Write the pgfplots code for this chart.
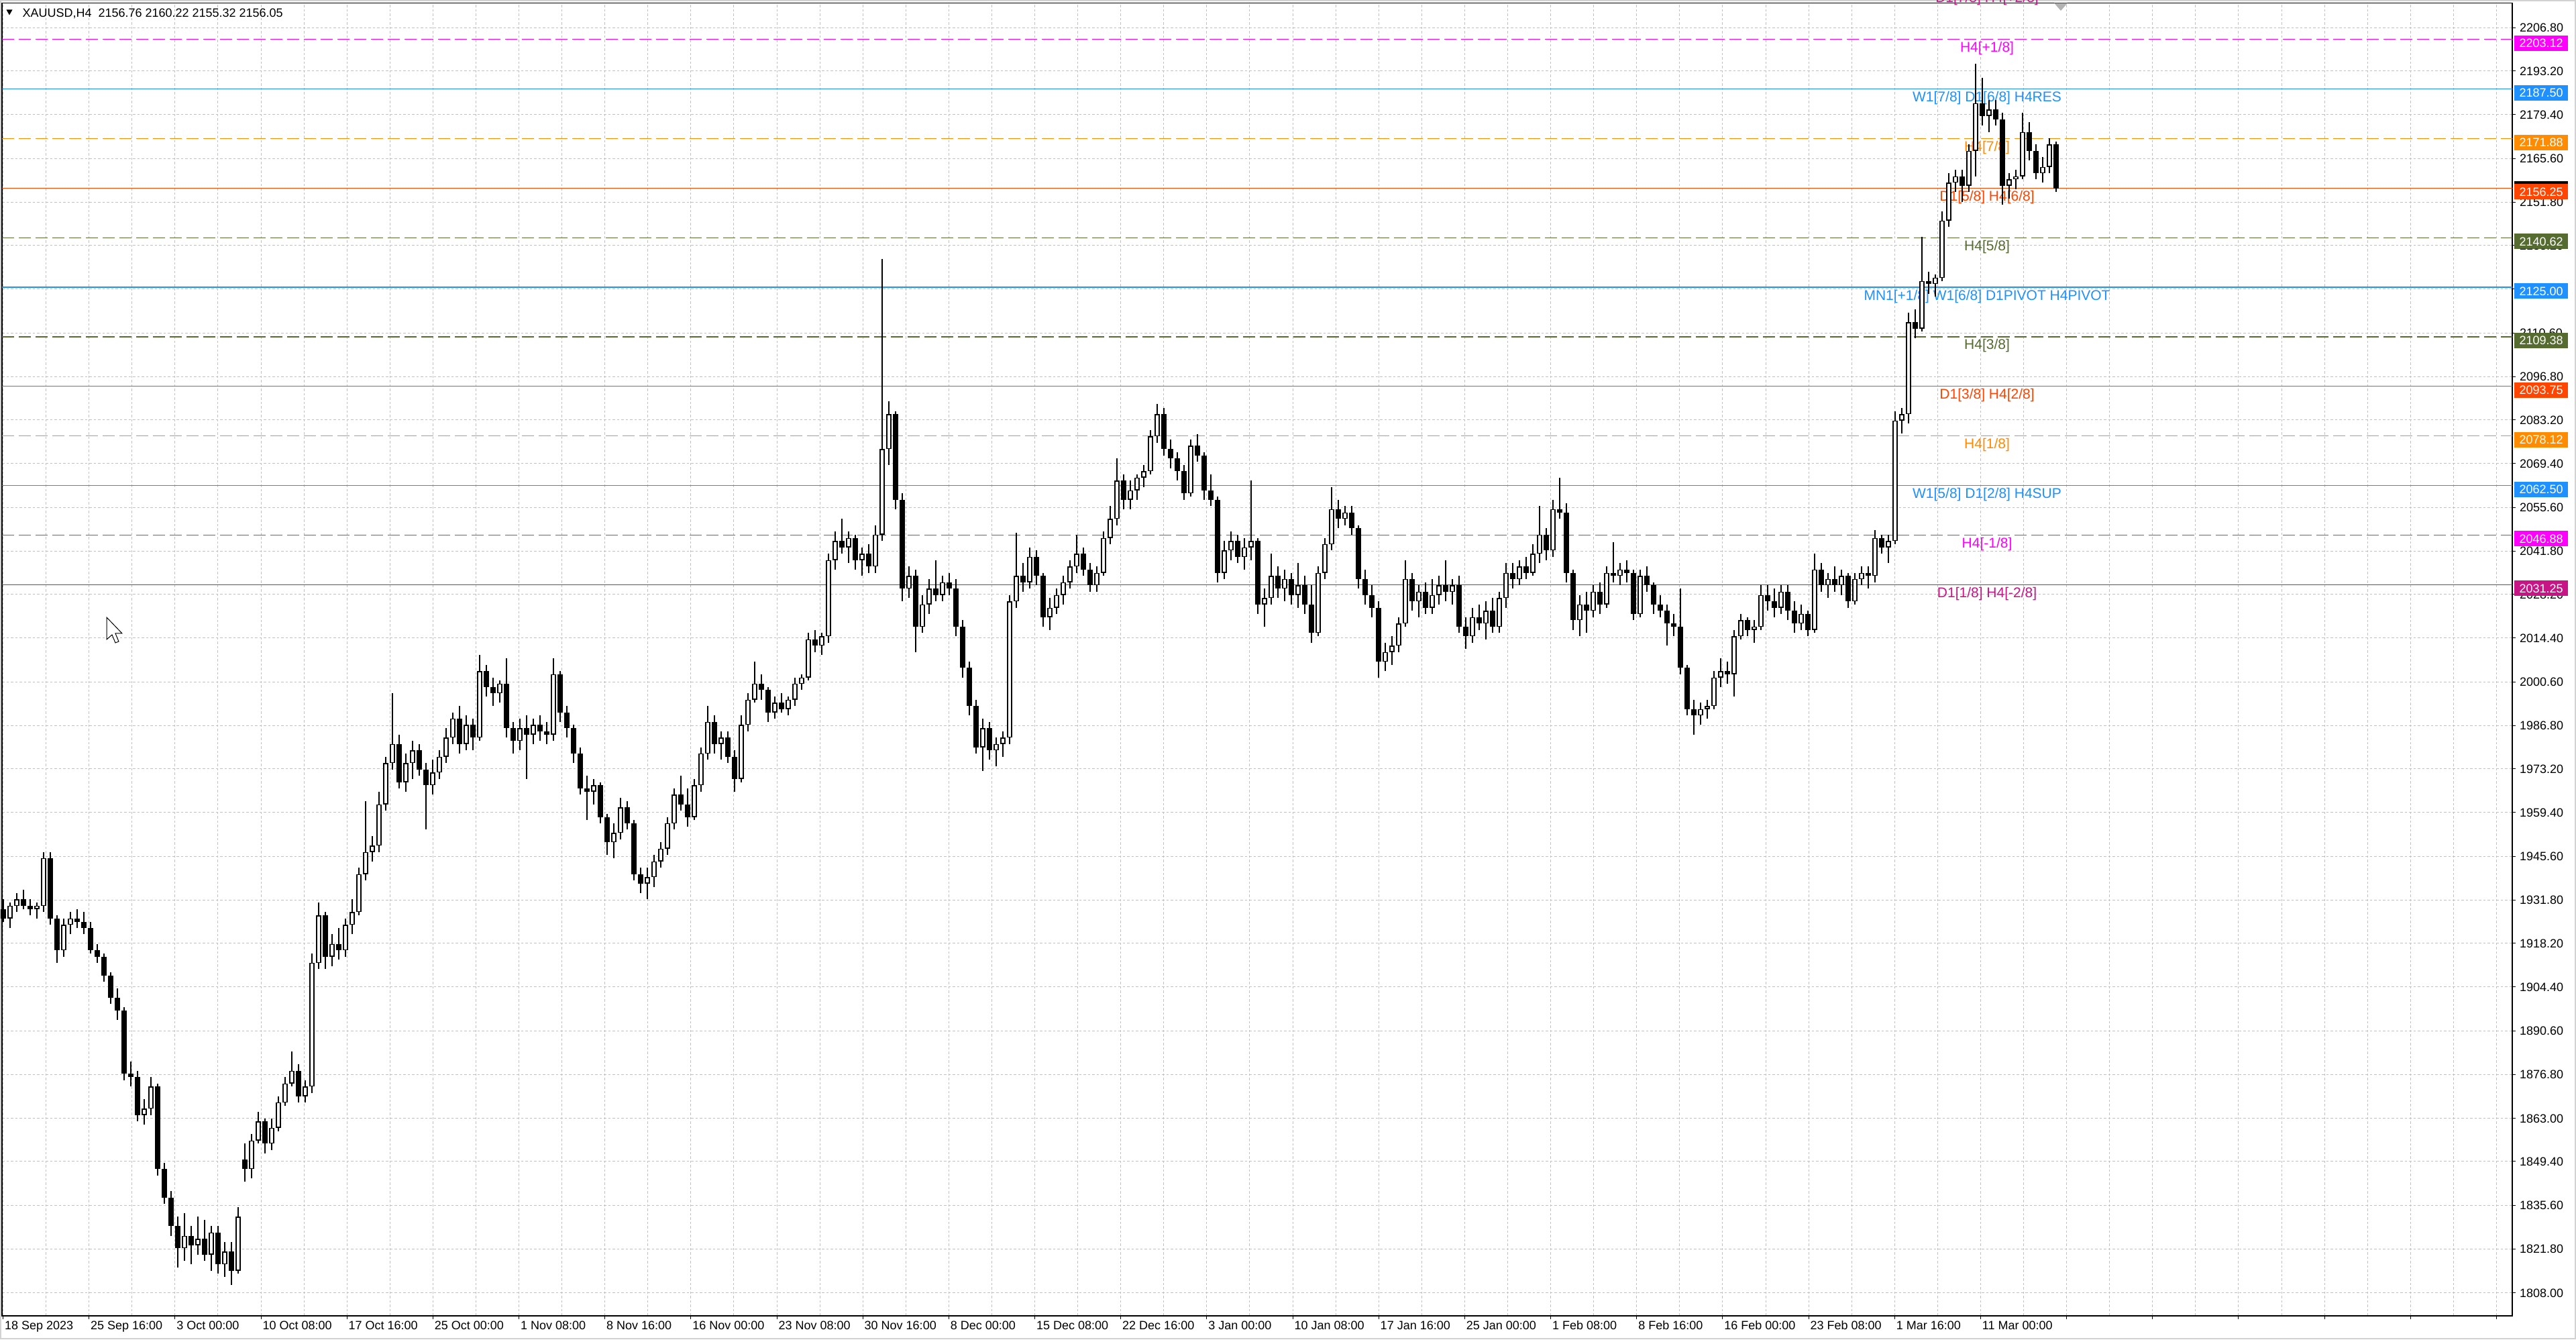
\documentclass[border=0pt]{standalone}
\usepackage{fontspec}
\setmainfont{Liberation Sans}
\usepackage{pgfplots}
\usepackage{pgfplotstable}
\pgfplotsset{compat=1.18}
\definecolor{cMag}{HTML}{FF00FF}
\definecolor{cBlue}{HTML}{1E90FF}
\definecolor{cOrange}{HTML}{FF8C00}
\definecolor{cRed}{HTML}{FF4500}
\definecolor{cOlive}{HTML}{556B2F}
\definecolor{cViolet}{HTML}{C71585}
\definecolor{gridgray}{HTML}{C0C0C0}
\newcommand\axfont{\fontsize{3.6pt}{4pt}\selectfont}
\newcommand\lvlfont{\fontsize{4.2pt}{5pt}\selectfont}
\newcommand\ytl[2]{\node[anchor=base west,inner sep=0pt,font=\axfont] at ([xshift=2pt,yshift=-1.29pt]axis cs:3745,#1) {#2};}
\newcommand\xl[2]{\node[anchor=base west,inner sep=0pt,font=\axfont] at ([xshift=0.3pt,yshift=-4.14pt]axis cs:#1,1800.77) {#2};}
\newcommand\pbox[2]{\node[fill=#2,text=white,inner sep=0pt,minimum width=16pt,minimum height=4.6pt,text height=2.58pt,text depth=0pt,font=\axfont] at ([xshift=8.6pt,yshift=-1.1pt]axis cs:3745,#1) {#1};}
\newcommand\lvltext[3]{\node[anchor=base,inner sep=0pt,font=\lvlfont,text=#2] at ([yshift=-3.8pt]axis cs:2962,#1) {#3};}
\pgfplotstableread{
o h l c
1929 1932 1925 1926
1926 1931 1923 1930
1930 1934 1928 1932
1932 1935 1929 1930
1930 1932 1927 1929
1929 1931 1926 1930
1930 1947 1928 1945
1945 1947 1924 1926
1926 1927 1912 1916
1916 1926 1914 1924
1924 1928 1921 1926
1926 1929 1923 1925
1925 1928 1921 1923
1923 1925 1915 1916
1916 1918 1912 1914
1914 1915 1906 1908
1908 1909 1899 1901
1901 1904 1894 1897
1897 1898 1875 1877
1877 1881 1873 1876
1876 1878 1862 1864
1864 1869 1861 1866
1866 1876 1864 1873
1873 1874 1845 1847
1847 1849 1836 1838
1838 1840 1826 1829
1829 1832 1816 1822
1822 1833 1818 1826
1826 1829 1817 1823
1823 1832 1820 1825
1825 1831 1818 1820
1820 1829 1815 1827
1827 1829 1814 1817
1817 1824 1813 1821
1821 1824 1810.5 1815
1815 1835 1814 1832
1850 1855 1843 1847
1847 1858 1844 1856
1856 1865 1855 1862
1862 1863 1852 1855
1855 1863 1853 1860
1860 1870 1859 1868
1868 1876 1867 1874
1874 1884 1873 1878
1878 1880 1868 1870
1870 1875 1868 1873
1873 1915 1871 1912
1912 1931 1910 1927
1927 1928 1910 1914
1914 1921 1911 1918
1918 1923 1913 1916
1916 1926 1914 1924
1924 1932 1921 1928
1928 1942 1927 1940
1940 1963 1938 1947
1947 1952 1944 1949
1949 1966 1947 1962
1962 1977 1960 1975
1975 1997 1973 1981
1981 1984 1967 1969
1969 1978 1966 1975
1975 1982 1970 1979
1979 1981 1971 1973
1973 1975 1954 1968
1968 1976 1965 1972
1972 1979 1970 1977
1977 1986 1975 1983
1983 1991 1981 1989
1989 1993 1978 1981
1981 1990 1979 1987
1987 1989 1979 1983
1983 2009 1982 2004
2004 2006 1996 1999
1999 2002 1993 1997
1997 2001 1994 2000
2000 2008 1983 1986
1986 1988 1978 1982
1982 1989 1979 1986
1986 1990 1970 1984
1984 1989 1981 1987
1987 1990 1982 1985
1985 1988 1981 1984
1984 2008 1982 2003
2003 2004 1988 1991
1991 1993 1983 1986
1986 1987 1975 1978
1978 1980 1965 1967
1967 1971 1957 1966
1966 1970 1962 1968
1968 1969 1956 1958
1958 1959 1946 1950
1950 1956 1945 1953
1953 1964 1951 1961
1961 1963 1954 1956
1956 1957 1938 1940
1940 1942 1934 1937
1937 1942 1932 1939
1939 1946 1936 1944
1944 1950 1942 1948
1948 1958 1946 1956
1956 1967 1954 1965
1965 1971 1960 1962
1962 1967 1955 1958
1958 1970 1957 1968
1968 1980 1966 1978
1978 1993 1976 1988
1988 1990 1978 1981
1981 1985 1976 1983
1983 1985 1975 1977
1977 1979 1966 1970
1970 1990 1969 1987
1987 1997 1985 1995
1995 2007 1994 2000
2000 2003 1995 1998
1998 1999 1988 1991
1991 1996 1989 1994
1994 1997 1991 1992
1992 1996 1990 1995
1995 2002 1993 2000
2000 2003 1998 2002
2002 2016 2001 2014
2014 2017 2010 2012
2012 2016 2009 2015
2015 2041 2013 2039
2039 2048 2036 2045
2045 2052 2041 2043
2043 2048 2038 2046
2046 2047 2036 2039
2039 2043 2034 2041
2041 2044 2035 2037
2037 2050 2035 2047
2047 2134 2045 2074
2074 2089 2069 2085
2085 2086 2055 2058
2058 2060 2026 2030
2030 2037 2027 2034
2034 2036 2010 2018
2018 2028 2016 2025
2025 2033 2022 2030
2030 2039 2026 2028
2028 2034 2026 2032
2032 2035 2028 2030
2030 2033 2015 2018
2018 2020 2002 2005
2005 2007 1990 1993
1993 1995 1978 1980
1980 1989 1972.5 1986
1986 1988 1976 1979
1979 1983 1974 1981
1981 1985 1977 1983
1983 2028 1981 2026
2026 2047.5 2024 2034
2034 2038 2029 2032
2032 2043 2030 2040
2040 2042 2031 2034
2034 2035 2018 2021
2021 2027 2017 2024
2024 2030 2022 2028
2028 2034 2025 2032
2032 2039 2030 2037
2037 2047 2035 2041
2041 2043 2034 2036
2036 2038 2029 2031
2031 2037 2029 2035
2035 2048 2034 2046
2046 2056 2044 2052
2052 2071 2050 2064
2064 2066 2055 2058
2058 2064 2055 2061
2061 2066 2058 2065
2065 2069 2062 2067
2067 2080 2066 2078
2078 2088.3 2076 2085
2085 2087 2072 2074
2074 2077 2068 2071
2071 2073 2064 2067
2067 2069 2058 2060
2060 2077 2059 2075
2075 2078.6 2070 2072
2072 2073 2058 2061
2061 2066 2056 2058
2058 2059 2032 2035
2035 2045 2033 2042
2042 2048 2039 2045
2045 2047 2038 2040
2040 2046 2036 2043
2043 2064 2039 2045
2045 2046 2022 2025
2025 2030 2018 2027
2027 2041 2025 2034
2034 2037 2027 2030
2030 2036 2026 2033
2033 2035 2025 2028
2028 2038 2024 2031
2031 2034 2022 2025
2025 2031 2013 2016
2016 2037 2015 2035
2035 2046 2033 2044
2044 2062 2042 2055
2055 2058 2049 2052
2052 2056 2050 2054
2054 2056 2047 2049
2049 2050 2030 2033
2033 2036 2025 2028
2028 2031 2021 2024
2024 2026 2002 2007
2007 2013 2004 2010
2010 2015 2006 2012
2012 2021 2010 2019
2019 2039 2018 2033
2033 2035 2023 2026
2026 2031 2021 2029
2029 2032 2022 2024
2024 2033 2022 2028
2028 2034 2025 2031
2031 2039 2026 2029
2029 2033 2025 2031
2031 2034 2016 2018
2018 2021 2011 2015
2015 2024 2013 2021
2021 2025 2017 2019
2019 2026 2014 2023
2023 2027 2016 2018
2018 2029 2016 2027
2027 2038 2024 2035
2035 2038 2030 2033
2033 2039 2031 2037
2037 2040 2033 2035
2035 2044 2034 2041
2041 2056 2038 2047
2047 2049 2039 2042
2042 2058 2040 2055
2055 2065 2052 2054
2054 2057 2032 2035
2035 2036 2017 2020
2020 2028 2015 2025
2025 2029 2016 2023
2023 2031 2021 2029
2029 2032 2022 2025
2025 2037 2024 2035
2035 2044.7 2032 2034
2034 2038 2031 2036
2036 2039 2032 2035
2035 2036 2020 2022
2022 2036 2021 2034
2034 2037 2029 2031
2031 2032 2022 2025
2025 2028 2021 2023
2023 2025 2012 2019
2019 2022 2015 2018
2018 2030 2003 2005
2005 2006 1990 1992
1992 1995 1984 1990
1990 1994 1987 1992
1992 1995 1989 1993
1993 2004 1992 2002
2002 2008 1999 2004
2004 2007 2000 2003
2003 2017 1996 2015
2015 2022 2014 2020
2020 2021 2015 2017
2017 2020 2013 2018
2018 2031 2017 2028
2028 2031 2023 2026
2026 2030 2021 2024
2024 2031 2022 2029
2029 2031 2020 2023
2023 2026 2016 2019
2019 2025 2017 2022
2022 2023 2015 2017
2017 2041 2016 2036
2036 2038 2029 2031
2031 2035 2027 2033
2033 2037 2029 2031
2031 2036 2028 2034
2034 2035 2024 2026
2026 2035 2025 2033
2033 2037 2031 2035
2035 2037 2030 2034
2034 2048.4 2032 2046
2046 2047 2041 2043
2043 2047 2038 2045
2045 2086 2044 2083
2083 2087 2079 2085
2085 2117 2082 2114
2114 2118 2109 2112
2112 2141 2111 2127
2127 2130 2123 2126
2126 2129 2122 2128
2128 2149 2127 2146
2146 2161 2144 2158
2158 2162 2155 2160
2160 2162 2152 2157
2157 2170 2155 2168
2168 2195.4 2160 2183
2183 2191 2176 2179
2179 2184 2174 2181
2181 2184 2176 2178
2178 2180 2151 2157
2157 2161 2153 2159
2159 2162 2156 2160
2160 2180 2159 2174
2174 2177 2165 2168
2168 2170 2159 2161
2161 2166 2158 2163
2163 2172 2161 2170
2170 2171 2155 2156.05
}\candles
\begin{document}
\begin{tikzpicture}
\useasboundingbox (0,0) rectangle (768pt,399.2pt);
\fill[white] (0,0) rectangle (768pt,399.2pt);
\draw[gray!35,line width=0.4pt] (0.2pt,0.2pt) rectangle (767.8pt,399pt);
\begin{axis}[
  at={(0.6pt,7.04pt)}, anchor=south west,
  scale only axis, width=748.4pt, height=391.24pt,
  xmin=3, xmax=3745, ymin=1800.77, ymax=2214.6,
  clip=false,
  axis line style={black,line width=0.3pt},
  xtick={4.5,132.67,260.84,389.01,517.18,645.35,773.52,901.69,1029.86,1158.03,1286.2,1414.37,1542.54,1670.71,1798.88,1927.05,2055.22,2183.39,2311.56,2439.73,2567.9,2696.07,2824.24,2952.41,3080.58,3208.75,3336.92,3465.09,3593.26,3721.43},
  minor x tick num=1,
  ytick={2206.8,2193.2,2179.4,2165.6,2151.8,2138.2,2124.4,2110.6,2096.8,2083.2,2069.4,2055.6,2041.8,2028.2,2014.4,2000.6,1986.8,1973.2,1959.4,1945.6,1931.8,1918.2,1904.4,1890.6,1876.8,1863,1849.4,1835.6,1821.8,1808},
  xticklabel={\relax}, yticklabel={\relax},
  xtick pos=left, ytick pos=right,
  tick align=outside,
  major tick length=1pt, minor tick length=0pt,
  tick style={black,line width=0.2pt},
  xmajorgrids=true, xminorgrids=true, ymajorgrids=true,
  major grid style={draw=gridgray,line width=0.2pt,dash pattern=on 0.7pt off 0.6pt},
  minor grid style={draw=gridgray,line width=0.2pt,dash pattern=on 0.7pt off 0.6pt},
]
% level lines
\addplot[cMag,line width=0.24pt,dash pattern=on 3.6pt off 1.4pt] coordinates {(3,2203.12) (3745,2203.12)};
\addplot[cBlue,line width=0.24pt] coordinates {(3,2187.50) (3745,2187.50)};
\addplot[cOrange,line width=0.24pt,dash pattern=on 3.6pt off 1.4pt] coordinates {(3,2171.88) (3745,2171.88)};
\addplot[cRed,line width=0.3pt] coordinates {(3,2156.25) (3745,2156.25)};
\addplot[cOlive,line width=0.24pt,dash pattern=on 3.6pt off 1.4pt] coordinates {(3,2140.62) (3745,2140.62)};
\addplot[cBlue,line width=0.45pt] coordinates {(3,2125.00) (3745,2125.00)};
\addplot[cOlive,line width=0.24pt,dash pattern=on 3.6pt off 1.4pt] coordinates {(3,2109.38) (3745,2109.38)};
\addplot[cRed,line width=0.24pt] coordinates {(3,2093.75) (3745,2093.75)};
\addplot[cOrange,line width=0.24pt,dash pattern=on 3.6pt off 1.4pt] coordinates {(3,2078.12) (3745,2078.12)};
\addplot[cBlue,line width=0.24pt] coordinates {(3,2062.50) (3745,2062.50)};
\addplot[cMag,line width=0.24pt,dash pattern=on 3.6pt off 1.4pt] coordinates {(3,2046.88) (3745,2046.88)};
\addplot[cViolet,line width=0.24pt] coordinates {(3,2031.25) (3745,2031.25)};
% level texts
\lvltext{2218.75}{cViolet}{D1[7/8] H4[+2/8]}
\lvltext{2203.12}{cMag}{H4[+1/8]}
\lvltext{2187.50}{cBlue}{W1[7/8] D1[6/8] H4RES}
\lvltext{2171.88}{cOrange}{H4[7/8]}
\lvltext{2156.25}{cRed}{D1[5/8] H4[6/8]}
\lvltext{2140.62}{cOlive}{H4[5/8]}
\lvltext{2125.00}{cBlue}{MN1[+1/8] W1[6/8] D1PIVOT H4PIVOT}
\lvltext{2109.38}{cOlive}{H4[3/8]}
\lvltext{2093.75}{cRed}{D1[3/8] H4[2/8]}
\lvltext{2078.12}{cOrange}{H4[1/8]}
\lvltext{2062.50}{cBlue}{W1[5/8] D1[2/8] H4SUP}
\lvltext{2046.88}{cMag}{H4[-1/8]}
\lvltext{2031.25}{cViolet}{D1[1/8] H4[-2/8]}
% candles
\addplot[black,line width=0.34pt,quiver={u=0,v=\thisrow{h}-\thisrow{l}}] table[x expr=5+10*\coordindex,y=l]{\candles};
\addplot[black,line width=1.45pt,line cap=butt,quiver={u=0,v=\thisrow{c}-\thisrow{o}}] table[x expr=5+10*\coordindex,y=o]{\candles};
\addplot[white,line width=0.8pt,line cap=butt,quiver={u=0,v={max(\thisrow{c}-\thisrow{o}-0.6,0)}}] table[x expr=5+10*\coordindex,y expr=\thisrow{o}+0.3]{\candles};
% y tick labels
\ytl{2206.8}{2206.80}\ytl{2193.2}{2193.20}\ytl{2179.4}{2179.40}\ytl{2165.6}{2165.60}
\ytl{2151.8}{2151.80}\ytl{2138.2}{2138.20}\ytl{2124.4}{2124.40}\ytl{2110.6}{2110.60}
\ytl{2096.8}{2096.80}\ytl{2083.2}{2083.20}\ytl{2069.4}{2069.40}\ytl{2055.6}{2055.60}
\ytl{2041.8}{2041.80}\ytl{2028.2}{2028.20}\ytl{2014.4}{2014.40}\ytl{2000.6}{2000.60}
\ytl{1986.8}{1986.80}\ytl{1973.2}{1973.20}\ytl{1959.4}{1959.40}\ytl{1945.6}{1945.60}
\ytl{1931.8}{1931.80}\ytl{1918.2}{1918.20}\ytl{1904.4}{1904.40}\ytl{1890.6}{1890.60}
\ytl{1876.8}{1876.80}\ytl{1863}{1863.00}\ytl{1849.4}{1849.40}\ytl{1835.6}{1835.60}
\ytl{1821.8}{1821.80}\ytl{1808}{1808.00}
% price boxes
\pbox{2203.12}{cMag}
\pbox{2187.50}{cBlue}
\pbox{2171.88}{cOrange}
\node[fill=black,inner sep=0pt,minimum width=16pt,minimum height=0.9pt] at ([xshift=8.6pt,yshift=1.55pt]axis cs:3745,2156.25) {};
\pbox{2156.25}{cRed}
\pbox{2140.62}{cOlive}
\pbox{2125.00}{cBlue}
\pbox{2109.38}{cOlive}
\pbox{2093.75}{cRed}
\pbox{2078.12}{cOrange}
\pbox{2062.50}{cBlue}
\pbox{2046.88}{cMag}
\pbox{2031.25}{cViolet}
% x labels
\xl{4.5}{18 Sep 2023}\xl{132.67}{25 Sep 16:00}\xl{260.84}{3 Oct 00:00}\xl{389.01}{10 Oct 08:00}
\xl{517.18}{17 Oct 16:00}\xl{645.35}{25 Oct 00:00}\xl{773.52}{1 Nov 08:00}\xl{901.69}{8 Nov 16:00}
\xl{1029.86}{16 Nov 00:00}\xl{1158.03}{23 Nov 08:00}\xl{1286.2}{30 Nov 16:00}\xl{1414.37}{8 Dec 00:00}
\xl{1542.54}{15 Dec 08:00}\xl{1670.71}{22 Dec 16:00}\xl{1798.88}{3 Jan 00:00}\xl{1927.05}{10 Jan 08:00}
\xl{2055.22}{17 Jan 16:00}\xl{2183.39}{25 Jan 00:00}\xl{2311.56}{1 Feb 08:00}\xl{2439.73}{8 Feb 16:00}
\xl{2567.9}{16 Feb 00:00}\xl{2696.07}{23 Feb 08:00}\xl{2824.24}{1 Mar 16:00}\xl{2952.41}{11 Mar 00:00}
\end{axis}
% title
\fill[black] (1.9pt,396.3pt) -- (3.7pt,396.3pt) -- (2.8pt,394.7pt) -- cycle;
\node[anchor=base west,inner sep=0pt,font=\axfont] at (6.5pt,394pt) {XAUUSD,H4\ \ 2156.76 2160.22 2155.32 2156.05};
% shift marker
\fill[gray!60] (612.4pt,398.28pt) -- (616.4pt,398.28pt) -- (614.4pt,396pt) -- cycle;
% mouse cursor
\begin{scope}[shift={(31.8pt,215.2pt)},x=0.2pt,y=-0.2pt]
\filldraw[fill=white,draw=black,line width=0.2pt] (0,0)--(0,33)--(8,26)--(13,38)--(18,36)--(13,24)--(23,24)--cycle;
\end{scope}
\end{tikzpicture}
\end{document}
